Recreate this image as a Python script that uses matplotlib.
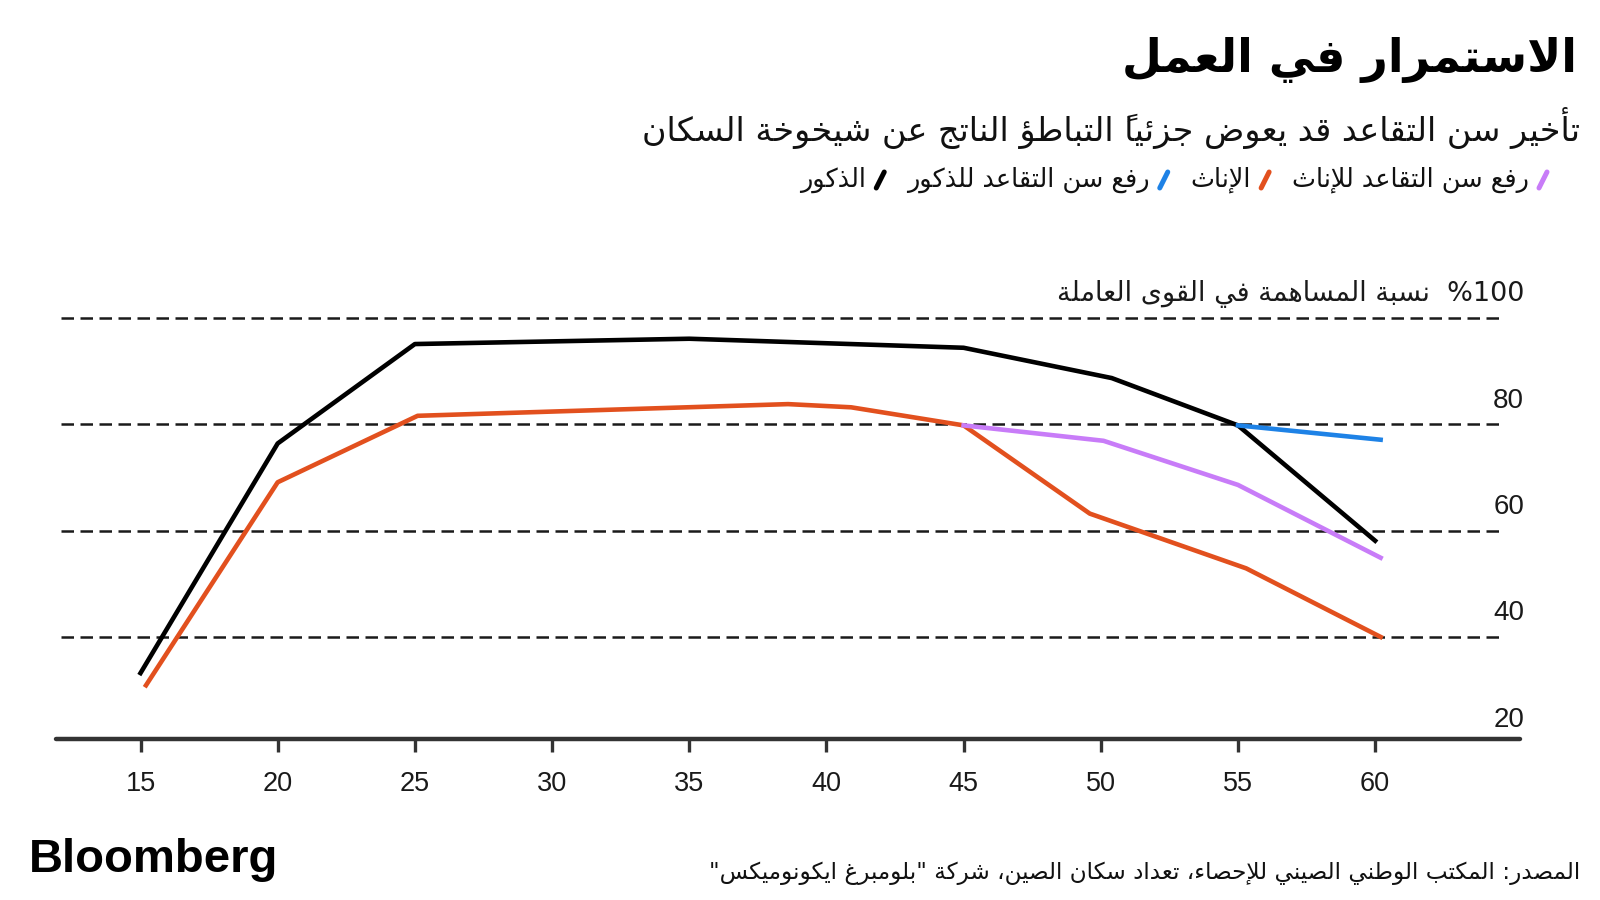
import matplotlib
matplotlib.use("Agg")
import matplotlib.pyplot as plt
from matplotlib.lines import Line2D

# values (labour force participation, %)
men_age = [15, 20, 25, 35, 45, 50.4, 55, 60]
men_rate = [33.2, 76.4, 95.1, 96.1, 94.4, 88.7, 79.8, 58.1]
women_age = [15.2, 20, 25.1, 38.6, 40.9, 45, 49.6, 55.3, 60.2]
women_rate = [30.9, 69.1, 81.6, 83.8, 83.2, 79.8, 63.2, 52.9, 40.0]
women_later_age = [45, 50.1, 55, 60.2]
women_later_rate = [79.8, 76.9, 68.6, 54.9]
men_later_age = [55, 60.2]
men_later_rate = [79.8, 77.1]
x_ticks = [15, 20, 25, 30, 35, 40, 45, 50, 55, 60]
y_grid = [40, 60, 80, 100]
y_labels = [20, 40, 60, 80]

title = "الاستمرار في العمل"
subtitle = "تأخير سن التقاعد قد يعوض جزئياً التباطؤ الناتج عن شيخوخة السكان"
y_title = "نسبة المساهمة في القوى العاملة"
source = 'المصدر: المكتب الوطني الصيني للإحصاء، تعداد سكان الصين، شركة "بلومبرغ ايكونوميكس"'
legend_items = [("رفع سن التقاعد للإناث", "#c87cf8"),
                ("الإناث", "#e2501e"),
                ("رفع سن التقاعد للذكور", "#1e82e6"),
                ("الذكور", "#000000")]

# matplotlib has no arabic shaping, so pick the presentation forms by hand
PF = {
    'ء': (0xFE80, 1), 'آ': (0xFE81, 2), 'أ': (0xFE83, 2), 'ؤ': (0xFE85, 2),
    'إ': (0xFE87, 2), 'ئ': (0xFE89, 4), 'ا': (0xFE8D, 2), 'ب': (0xFE8F, 4),
    'ة': (0xFE93, 2), 'ت': (0xFE95, 4), 'ث': (0xFE99, 4), 'ج': (0xFE9D, 4),
    'ح': (0xFEA1, 4), 'خ': (0xFEA5, 4), 'د': (0xFEA9, 2), 'ذ': (0xFEAB, 2),
    'ر': (0xFEAD, 2), 'ز': (0xFEAF, 2), 'س': (0xFEB1, 4), 'ش': (0xFEB5, 4),
    'ص': (0xFEB9, 4), 'ض': (0xFEBD, 4), 'ط': (0xFEC1, 4), 'ظ': (0xFEC5, 4),
    'ع': (0xFEC9, 4), 'غ': (0xFECD, 4), 'ف': (0xFED1, 4), 'ق': (0xFED5, 4),
    'ك': (0xFED9, 4), 'ل': (0xFEDD, 4), 'م': (0xFEE1, 4), 'ن': (0xFEE5, 4),
    'ه': (0xFEE9, 4), 'و': (0xFEED, 2), 'ى': (0xFEEF, 2), 'ي': (0xFEF1, 4),
}
LAM_ALEF = {'آ': 0xFEF5, 'أ': 0xFEF7, 'إ': 0xFEF9, 'ا': 0xFEFB}


def joins_next(c):
    return c in PF and PF[c][1] == 4


def joins_prev(c):
    return (c in PF and PF[c][1] >= 2) or c.startswith('LA')


def ar(text):
    clusters = []
    for c in text:
        if '\u064b' <= c <= '\u0652' and clusters:
            clusters[-1][1] += c
        elif c in LAM_ALEF and clusters and clusters[-1][0] == 'ل' and not clusters[-1][1]:
            clusters[-1][0] = 'LA' + c
        else:
            clusters.append([c, ''])
    out = []
    for i, (c, marks) in enumerate(clusters):
        prev = clusters[i - 1][0] if i > 0 else ''
        nxt = clusters[i + 1][0] if i + 1 < len(clusters) else ''
        p = joins_next(prev) and joins_prev(c)
        if c.startswith('LA'):
            g = chr(LAM_ALEF[c[2]] + (1 if p else 0))
        elif c in PF:
            base, n = PF[c]
            nx = joins_next(c) and joins_prev(nxt)
            if n == 1:
                k = 0
            elif n == 2:
                k = 1 if p else 0
            else:
                k = 3 if (p and nx) else 1 if p else 2 if nx else 0
            g = chr(base + k)
        else:
            g = c
        out.append(marks + g)   # marks draw over the glyph that follows them
    return ''.join(reversed(out))


AR_FONT = 'DejaVu Sans'
NUM_FONT = 'Liberation Sans'
W, H = 1600, 900

fig = plt.figure(figsize=(16, 9), dpi=100)
ax = fig.add_axes([56 / W, 161 / H, 1464 / W, 421 / H])

ax.plot(men_age, men_rate, color='#000000', lw=3.3, zorder=3)
ax.plot(women_age, women_rate, color='#e2501e', lw=3.3, zorder=3)
ax.plot(women_later_age, women_later_rate, color='#c87cf8', lw=3.3, zorder=4)
ax.plot(men_later_age, men_later_rate, color='#1e82e6', lw=3.3, zorder=4)

ax.set_xlim(11.92, 65.28)
ax.set_ylim(20.8, 100)
ax.hlines(y_grid, 12.1, 64.73, colors='#1a1a1a', linewidth=1.8,
          linestyles=(0, (5, 2.6)), clip_on=False, zorder=1)

for s in ['top', 'left', 'right']:
    ax.spines[s].set_visible(False)
ax.spines['bottom'].set_linewidth(3.2)
ax.spines['bottom'].set_color('#333333')
ax.spines['bottom'].set_capstyle('round')
ax.set_yticks([])
ax.set_xticks(x_ticks)
ax.set_xticklabels([str(t) for t in x_ticks], fontsize=19.5, family=NUM_FONT, color='#1a1a1a')
ax.tick_params(axis='x', direction='out', length=9, width=2.4, color='#333333', pad=14)

for v in y_labels:
    ax.annotate(str(v), xy=(1.0, v), xycoords=('axes fraction', 'data'),
                xytext=(3, 17), textcoords='offset points', ha='right', va='center',
                fontsize=20, family=NUM_FONT, color='#1a1a1a')
ax.annotate(ar(y_title) + '  %100', xy=(1.0, 100), xycoords=('axes fraction', 'data'),
            xytext=(3, 17), textcoords='offset points', ha='right', va='center',
            fontsize=19.5, family=[AR_FONT], color='#1a1a1a')

fig.text(1577 / W, 1 - 60 / H, ar(title), ha='right', va='center',
         fontsize=33, fontweight='bold', family=AR_FONT, color='#000000')
fig.text(1580 / W, 1 - 128 / H, ar(subtitle), ha='right', va='center',
         fontsize=24, family=AR_FONT, color='#111111')
fig.text(1580 / W, 1 - 873 / H, ar(source), ha='right', va='center',
         fontsize=16.7, family=AR_FONT, color='#111111')
fig.text(29 / W, 1 - 860 / H, 'Bloomberg', ha='left', va='center',
         fontsize=34, fontweight='bold', family=NUM_FONT, color='#000000')

# legend row, laid out right to left
renderer = fig.canvas.get_renderer()
x = 1543
ly = 180
for label, col in legend_items:
    fig.add_artist(Line2D([(x - 4) / W, (x + 4) / W], [1 - (ly + 8) / H, 1 - (ly - 8) / H],
                          color=col, lw=3.6, solid_capstyle='round'))
    t = fig.text((x - 14) / W, 1 - ly / H, ar(label), ha='right', va='center',
                 fontsize=18.4, family=AR_FONT, color='#111111')
    w = t.get_window_extent(renderer).width
    x = x - 14 - w - 27

fig.savefig('out.png', dpi=100)
